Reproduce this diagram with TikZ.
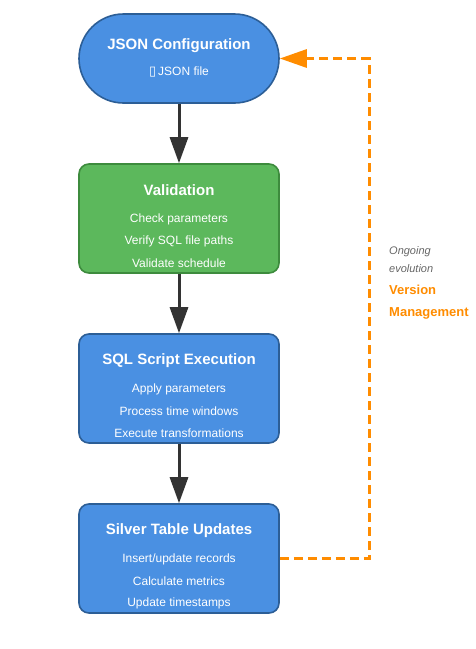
\documentclass[tikz,border=0pt]{standalone}
\usepackage{fontspec}
\setmainfont{Liberation Sans}
\newfontfamily\symfont{DejaVu Sans}
\usetikzlibrary{arrows.meta}
\definecolor{sblue}{RGB}{74,144,226}
\definecolor{sblueline}{RGB}{44,94,150}
\definecolor{sgreen}{RGB}{92,184,92}
\definecolor{sgreenline}{RGB}{61,139,61}
\definecolor{sorange}{RGB}{255,140,0}
\definecolor{sdark}{RGB}{51,51,51}
\definecolor{sgray}{RGB}{102,102,102}

\begin{document}
\begin{tikzpicture}[x=1pt,y=-1pt,
 box/.style={draw, line width=1.6pt, minimum width=200pt, minimum height=109pt, rounded corners=10pt},
 title/.style={text=white, font=\bfseries\fontsize{15}{18}\selectfont},
 item/.style={text=white, font=\fontsize{12}{14}\selectfont},
 flow/.style={draw=sdark, line width=3pt, -{Triangle[length=26pt,width=18pt]}}]

\useasboundingbox (0,0) rectangle (476,649);

%boxes:
\node[box, fill=sblue, draw=sblueline, minimum height=89pt, rounded corners=44.5pt] (json) at (179,58.5) {};
\node[box, fill=sgreen, draw=sgreenline] (valid) at (179,218.5) {};
\node[box, fill=sblue, draw=sblueline] (sql) at (179,388.5) {};
\node[box, fill=sblue, draw=sblueline] (silver) at (179,558.5) {};

%texts:
\node[title] (jsont) at (179,45.5) {JSON Configuration};
\node[item] (jsonf) at (179,71.5) {{\symfont\fontsize{13}{14}\selectfont ▯}\,JSON file};

\node[title] (validt) at (179,190.5) {Validation};
\node[item] (valid1) at (179,219.5) {Check parameters};
\node[item] (valid2) at (179,241.5) {Verify SQL file paths};
\node[item] (valid3) at (179,263.5) {Validate schedule};

\node[title] (sqlt) at (179,360.5) {SQL Script Execution};
\node[item] (sql1) at (179,389.5) {Apply parameters};
\node[item] (sql2) at (179,411.5) {Process time windows};
\node[item] (sql3) at (179,433.5) {Execute transformations};

\node[title] (silvert) at (179,530.5) {Silver Table Updates};
\node[item] (silver1) at (179,559.5) {Insert/update records};
\node[item] (silver2) at (179,581.5) {Calculate metrics};
\node[item] (silver3) at (179,603.5) {Update timestamps};

%flow arrows:
\draw[flow] (json) -- (valid);
\draw[flow] (valid) -- (sql);
\draw[flow] (sql) -- (silver);

%feedback loop:
\coordinate (loop) at (369,300);
\draw[sorange, line width=3pt, dash pattern=on 9pt off 5pt, -{Triangle[length=27pt,width=18pt]}]
 (silver.east) -| (loop) |- (json.east);

\node[anchor=west, text=sgray, font=\itshape\fontsize{11}{18}\selectfont, align=left, inner sep=0pt] (ongoing) at (389,260) {Ongoing\\evolution};
\node[anchor=west, text=sorange, font=\bfseries\fontsize{13}{22}\selectfont, align=left, inner sep=0pt] (version) at (389,302) {Version\\Management};

\end{tikzpicture}
\end{document}
